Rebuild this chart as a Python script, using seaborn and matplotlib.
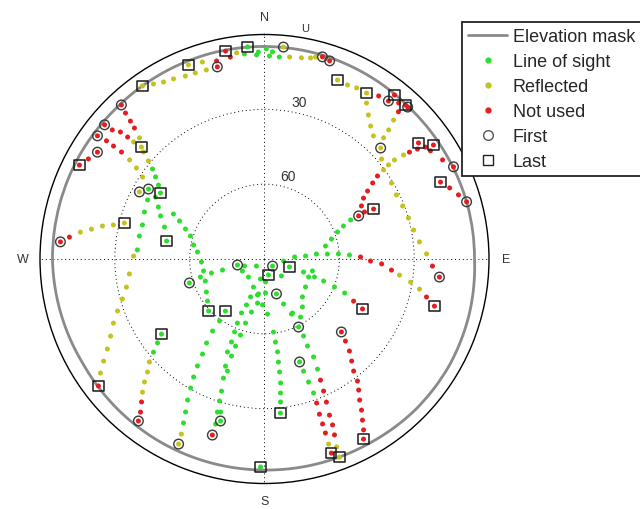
import numpy as np
import pandas as pd
import matplotlib
matplotlib.use("Agg")
import matplotlib.pyplot as plt
from matplotlib.lines import Line2D
import seaborn as sns

sns.set_style("white")
plt.rcParams["font.family"] = ["Liberation Sans", "DejaVu Sans"]

# Observations as (azimuth deg, elevation deg), grouped by signal status
los_pts = [
    (355.4, 4.7), (354.4, 7.4), (357.8, 8.1), (358.3, 7.0), (0.5, 5.8), (2.2, 6.9), (1.4, 8.6), (4.2, 8.8),
    (301.1, 35.7), (296.8, 37.5), (291.4, 38.3), (285.6, 39.2), (280.4, 39.0), (274.1, 38.9),
    (308.8, 32.4), (307.0, 35.3), (304.9, 38.2), (302.4, 40.6),
    (299.6, 39.7), (296.1, 42.6), (292.5, 44.9), (287.7, 47.9), (280.4, 50.1),
    (296.3, 49.3), (294.1, 52.7), (290.8, 56.1), (287.3, 58.9), (281.2, 61.0), (276.0, 63.0),
    (267.3, 64.7), (258.9, 65.1), (240.4, 63.2), (233.6, 61.6), (227.1, 59.4),
    (252.3, 58.4), (254.3, 63.3), (249.6, 64.7), (255.2, 68.0), (255.3, 72.6), (257.5, 78.9),
    (250.7, 81.5), (228.8, 85.7), (131.2, 85.7), (166.0, 83.4), (107.7, 79.5), (96.0, 82.3),
    (86.2, 77.9), (135.0, 80.4), (191.3, 81.8), (201.4, 77.9), (189.7, 75.8), (200.2, 73.8),
    (178.3, 76.4), (161.1, 75.2), (241.4, 79.9), (221.6, 80.3), (177.5, 80.8), (191.0, 75.3),
    (201.4, 70.2), (189.0, 72.1), (182.5, 71.6), (203.1, 66.5), (193.8, 68.1), (176.9, 67.9),
    (157.1, 70.4), (153.9, 65.4), (153.4, 59.5), (216.9, 63.9), (216.0, 59.3), (202.9, 62.1),
    (196.5, 63.2), (215.8, 54.4), (202.3, 58.4), (197.5, 58.0), (173.0, 60.5), (214.6, 49.1),
    (201.7, 54.2), (198.4, 53.2), (172.5, 56.4), (213.1, 44.5), (201.7, 49.9), (198.8, 48.9),
    (172.0, 52.4), (161.2, 46.4), (212.1, 39.4), (200.0, 44.3), (198.3, 42.7), (172.3, 48.3),
    (211.0, 34.8), (199.0, 39.5), (172.4, 44.3), (209.8, 30.4), (198.0, 34.3), (172.6, 39.9),
    (208.6, 25.6), (197.6, 30.3), (173.2, 35.9), (207.3, 21.0), (197.1, 25.8), (196.0, 26.2),
    (173.6, 32.3), (174.1, 27.9), (206.3, 16.7), (195.2, 22.7), (196.5, 21.0),
    (135.0, 68.5), (141.6, 65.5), (152.6, 65.6), (148.2, 62.6), (153.1, 55.4), (153.7, 51.1),
    (153.4, 46.1), (154.3, 41.0), (160.8, 42.4), (160.3, 37.6), (159.9, 32.8),
    (108.4, 73.5), (104.0, 70.2), (112.2, 70.9), (109.8, 68.7), (110.4, 64.7), (124.3, 70.1),
    (111.8, 59.8), (113.0, 55.1),
    (85.8, 73.5), (84.5, 69.1), (85.5, 64.7), (86.1, 60.3), (87.3, 55.9),
    (78.0, 65.0), (73.4, 62.0), (69.7, 58.8), (67.3, 55.7), (65.6, 52.1),
    (233.9, 38.9), (231.9, 35.5), (230.0, 31.9),
    (181.1, 6.6),
]

refl_pts = [
    (271.3, 37.5), (263.7, 35.5), (258.5, 33.5), (254.3, 30.8), (250.5, 27.5), (247.0, 24.2),
    (243.4, 21.0), (240.2, 17.4), (237.6, 13.6), (235.2, 9.9),
    (298.2, 33.1),
    (310.2, 29.1), (311.5, 25.2), (314.1, 20.2), (311.8, 19.6), (312.3, 23.3),
    (306.3, 22.9), (305.4, 27.0), (303.9, 31.1),
    (278.3, 15.4), (279.8, 19.6), (281.5, 23.7), (282.7, 27.9), (284.4, 32.0),
    (352.3, 6.6), (342.5, 7.2), (338.6, 6.4), (342.9, 10.7), (339.6, 10.4), (336.6, 10.1),
    (333.2, 9.1), (330.3, 8.3), (327.6, 6.9), (324.8, 5.1),
    (14.2, 6.5), (12.9, 7.3), (10.4, 8.0), (7.1, 8.4), (5.1, 4.7),
    (28.3, 12.1), (25.5, 12.7), (22.2, 12.5),
    (31.6, 11.9), (33.2, 15.3), (35.8, 18.8), (38.6, 21.8), (41.5, 24.1), (46.3, 25.6),
    (49.5, 28.3), (53.2, 30.4), (59.1, 30.7), (64.1, 31.2), (69.0, 30.7), (74.1, 30.0),
    (79.0, 29.1), (83.7, 27.5), (88.2, 25.0),
    (52.8, 27.6), (52.7, 24.5), (53.2, 20.4),
    (44.5, 21.9), (43.9, 18.2), (42.9, 14.0),
    (96.8, 35.5), (99.0, 30.7), (101.0, 26.7),
    (228.2, 28.1), (226.0, 24.8), (224.3, 21.1), (222.5, 17.6),
    (205.4, 12.3), (204.9, 8.2),
    (159.0, 9.3), (159.3, 5.1), (160.9, 11.5),
]

unused_pts = [
    (350.4, 7.9), (349.4, 5.2), (346.4, 8.3), (346.2, 10.7), (16.0, 5.7), (18.2, 6.4),
    (317.1, 5.7), (316.4, 9.2), (315.8, 12.9), (315.2, 16.0),
    (310.0, 6.3), (310.3, 10.0), (311.4, 13.0), (311.7, 16.5),
    (306.4, 6.8), (306.8, 10.9), (306.8, 14.4), (306.8, 18.4),
    (302.6, 10.5), (299.6, 8.8), (296.9, 6.8),
    (274.8, 7.9), (276.4, 11.3),
    (232.6, 6.2), (220.7, 14.4), (219.0, 11.0), (217.9, 7.7), (196.5, 16.4),
    (115.3, 50.5), (117.0, 45.9),
    (88.8, 51.5), (91.1, 47.5), (92.4, 43.0), (95.0, 38.9), (103.2, 23.3), (105.5, 19.3),
    (92.4, 22.6), (95.9, 19.5),
    (65.4, 48.5), (64.8, 45.7), (65.4, 41.9), (61.3, 45.7), (58.4, 43.4), (56.6, 40.5),
    (54.9, 37.0), (53.7, 33.8), (53.6, 17.8), (54.3, 14.5), (53.0, 12.7), (55.2, 11.4),
    (56.0, 8.3), (56.9, 10.6), (60.9, 8.3), (64.0, 5.7),
    (42.3, 10.2), (43.3, 6.3), (42.5, 6.3), (40.7, 7.5), (38.4, 6.1), (38.1, 9.5), (35.0, 10.2),
    (66.4, 13.0), (69.0, 10.5), (71.7, 8.1), (74.2, 5.8),
    (133.5, 47.5), (135.4, 43.8), (137.3, 39.8), (139.5, 36.2), (141.5, 32.6), (142.7, 28.5),
    (144.3, 25.3), (146.0, 21.8), (147.3, 18.0), (148.7, 14.4), (149.9, 10.8), (151.2, 7.6),
    (155.2, 36.5), (155.9, 32.0), (156.6, 27.5), (157.4, 22.2), (157.7, 18.1), (158.3, 14.1),
    (160.1, 28.6), (160.5, 24.0), (160.6, 19.9), (160.7, 16.1), (161.0, 7.7),
]

# First and last epoch of each satellite pass
first_pts = [
    (5.1, 4.7), (16.0, 5.7), (18.2, 6.4), (346.2, 10.7), (317.1, 5.7), (310.0, 6.3), (306.4, 6.8),
    (302.6, 10.5), (301.1, 35.7), (298.2, 33.1), (274.8, 7.9), (252.3, 58.4), (257.5, 78.9),
    (131.2, 85.7), (161.1, 75.2), (153.4, 59.5), (161.2, 46.4), (217.9, 7.7), (204.9, 8.2),
    (196.5, 16.4), (195.2, 22.7), (133.5, 47.5), (95.9, 19.5), (65.4, 48.5), (64.0, 5.7),
    (46.3, 25.6), (43.3, 6.3), (38.1, 9.5), (74.2, 5.8),
]
last_pts = [
    (355.4, 4.7), (349.4, 5.2), (338.6, 6.4), (324.8, 5.1), (312.3, 23.3), (302.4, 40.6),
    (296.9, 6.8), (284.4, 32.0), (280.4, 50.1), (227.1, 59.4), (216.9, 63.9), (166.0, 83.4),
    (107.7, 79.5), (233.9, 38.9), (232.6, 6.2), (181.1, 6.6), (174.1, 27.9), (159.3, 5.1),
    (161.0, 7.7), (151.2, 7.6), (117.0, 45.9), (105.5, 19.3), (65.4, 41.9), (53.0, 12.7),
    (56.0, 8.3), (66.4, 13.0), (42.5, 6.3), (38.4, 6.1), (31.6, 11.9), (22.2, 12.5),
]

# Elevation mask (azimuth deg, elevation deg)
mask_az = [0, 15, 30, 45, 60, 75, 90, 105, 120, 135, 150, 165, 180,
           195, 210, 225, 240, 255, 270, 285, 300, 315, 330, 345, 360]
mask_el = [4.8, 5.0, 5.5, 6.0, 6.0, 5.8, 5.8, 5.0, 4.5, 4.5, 5.0, 5.2, 5.4,
           5.5, 5.6, 5.8, 6.0, 5.5, 5.0, 5.0, 5.0, 5.2, 5.0, 4.8, 4.8]

status_names = ["Line of sight", "Reflected", "Not used"]
status_colors = {"Line of sight": "#2ede2e", "Reflected": "#c4c21c", "Not used": "#e41e1e"}


def to_frame(points, label):
    arr = np.asarray(points, dtype=float)
    return pd.DataFrame({"theta": np.deg2rad(arr[:, 0]), "zenith": 90.0 - arr[:, 1], "status": label})


obs = pd.concat([to_frame(los_pts, status_names[0]),
                 to_frame(refl_pts, status_names[1]),
                 to_frame(unused_pts, status_names[2])], ignore_index=True)
mask = pd.DataFrame({"theta": np.deg2rad(mask_az), "zenith": 90.0 - np.asarray(mask_el)})
first = to_frame(first_pts, "First")
last = to_frame(last_pts, "Last")

fig = plt.figure(figsize=(6.4, 5.1), dpi=100)
ax = fig.add_axes([40 / 640, 25.5 / 510, 449 / 640, 449 / 510], projection="polar")
ax.set_theta_zero_location("N")
ax.set_theta_direction(-1)
ax.set_rlim(0, 90)

ax.set_thetagrids([0, 90, 180, 270], labels=["N", "E", "S", "W"], fontsize=9, color="#333333")
ax.set_rgrids([30, 60], labels=["", ""])
ax.tick_params(axis="x", pad=2)
ax.grid(True, color="black", linewidth=0.7, linestyle=(0, (1, 3)))
ax.spines["polar"].set_linewidth(1.0)
ax.spines["polar"].set_color("black")

# mask outline follows the azimuth arc between listed points
mask_line, = ax.plot(mask["theta"], mask["zenith"], color="#8a8a8a", linewidth=2.0, zorder=2)
mask_line.get_path()._interpolation_steps = 30

sns.scatterplot(data=obs, x="theta", y="zenith", hue="status", palette=status_colors,
                hue_order=status_names, s=13, linewidth=0, legend=False, ax=ax, zorder=3)

ax.scatter(first["theta"], first["zenith"], s=48, marker="o", facecolors="none",
           edgecolors="#3a3a3a", linewidths=1.0, zorder=4)
ax.scatter(last["theta"], last["zenith"], s=55, marker="s", facecolors="none",
           edgecolors="#1a1a1a", linewidths=1.1, zorder=4)
ax.set_xlabel("")
ax.set_ylabel("")

ax.text(np.deg2rad(12.4), 64.6, "30", ha="center", va="center", fontsize=10, color="#333333")
ax.text(np.deg2rad(15.8), 34.6, "60", ha="center", va="center", fontsize=10, color="#333333")
ax.text(np.deg2rad(9.9), 94.0, "U", ha="center", va="center", fontsize=8, color="#333333",
        clip_on=False)

handles = [
    Line2D([], [], color="#8a8a8a", linewidth=2.0, label="Elevation mask"),
    Line2D([], [], marker="o", linestyle="none", color=status_colors["Line of sight"],
           markersize=3.5, label="Line of sight"),
    Line2D([], [], marker="o", linestyle="none", color=status_colors["Reflected"],
           markersize=3.5, label="Reflected"),
    Line2D([], [], marker="o", linestyle="none", color=status_colors["Not used"],
           markersize=3.5, label="Not used"),
    Line2D([], [], marker="o", linestyle="none", markerfacecolor="none",
           markeredgecolor="#555555", markersize=7, label="First"),
    Line2D([], [], marker="s", linestyle="none", markerfacecolor="none",
           markeredgecolor="#222222", markersize=7, label="Last"),
]
leg = fig.legend(handles=handles, loc="upper left", bbox_to_anchor=(462 / 640, 1 - 23 / 510),
                 frameon=True, fancybox=False, edgecolor="#222222", fontsize=13,
                 handlelength=2.15, handletextpad=0.3, labelspacing=0.44, borderpad=0.35,
                 borderaxespad=0.0, framealpha=1.0)
leg.get_frame().set_linewidth(1.3)

fig.savefig("out.png", dpi=100)
